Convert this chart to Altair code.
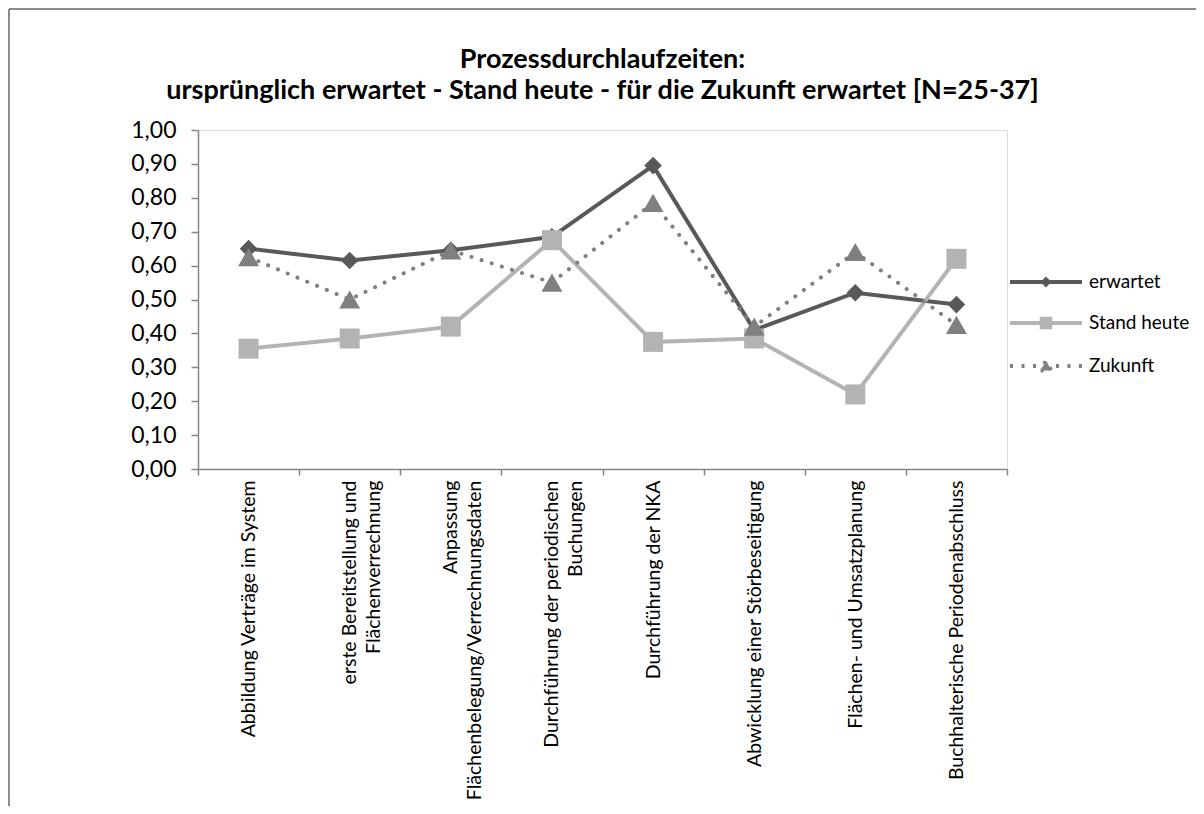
import altair as alt
import pandas as pd

# ---------------- data ----------------
categories = [
    "Abbildung Verträge im System",
    "erste Bereitstellung und|Flächenverrechnung",
    "Anpassung|Flächenbelegung/Verrechnungsdaten",
    "Durchführung der periodischen|Buchungen",
    "Durchführung der NKA",
    "Abwicklung einer Störbeseitigung",
    "Flächen- und Umsatzplanung",
    "Buchhalterische Periodenabschluss",
]
series_names = ["erwartet", "Stand heute", "Zukunft"]
erwartet = [0.65, 0.615, 0.645, 0.685, 0.895, 0.41, 0.52, 0.485]
stand_heute = [0.355, 0.385, 0.42, 0.675, 0.375, 0.385, 0.22, 0.62]
zukunft = [0.625, 0.50, 0.645, 0.55, 0.785, 0.42, 0.64, 0.425]
y_ticks = [0.0, 0.1, 0.2, 0.3, 0.4, 0.5, 0.6, 0.7, 0.8, 0.9, 1.0]
title_lines = [
    "Prozessdurchlaufzeiten:",
    "ursprünglich  erwartet - Stand heute - für die Zukunft erwartet [N=25-37]",
]

rows = []
for name, vals in zip(series_names, [erwartet, stand_heute, zukunft]):
    for c, v in zip(categories, vals):
        rows.append({"cat": c, "series": name, "value": v})
df = pd.DataFrame(rows)

# ---------------- styles ----------------
colors = ["#595959", "#b3b3b3", "#808080"]
shapes = ["diamond", "square", "triangle-up"]
sizes = [310, 400, 440]
legend_paths = [
    "M-3,0L3,0M0,-0.22L0.22,0L0,0.22L-0.22,0Z",
    "M-3,0L3,0M-0.36,-0.36L0.36,-0.36L0.36,0.36L-0.36,0.36Z",
    "M-3,0L3,0M-0.45,0.38L0.45,0.38L0,-0.45Z",
]
legend_dash = [[1, 0], [1, 0], [3, 8.5]]
FONT = "Lato"
AXIS_GRAY = "#868686"

x_enc = alt.X(
    "cat:N",
    sort=categories,
    scale=alt.Scale(type="band", paddingInner=0, paddingOuter=0),
    axis=alt.Axis(
        title=None, labelAngle=270, labelAlign="right", labelBaseline="middle",
        labelExpr="split(datum.label, '|')", tickBand="extent", tickSize=6,
        labelPadding=5, labelFontSize=19.5, labelLineHeight=24, labelLimit=0,
        labelColor="black", labelFont=FONT, domainColor=AXIS_GRAY,
        tickColor=AXIS_GRAY, domainWidth=1.5, tickWidth=1.5, grid=False,
    ),
)
y_enc = alt.Y(
    "value:Q",
    scale=alt.Scale(domain=[0, 1], nice=False, zero=True),
    axis=alt.Axis(
        title=None, values=y_ticks,
        labelExpr="replace(format(datum.value, '.2f'), '.', ',')",
        tickSize=7, labelPadding=15, labelFontSize=23, labelColor="black",
        labelFont=FONT, domainColor=AXIS_GRAY, tickColor=AXIS_GRAY,
        domainWidth=1.5, tickWidth=1.5, grid=False,
    ),
)

base = alt.Chart(df)
layers = []

# border of the chart area
border_df = pd.DataFrame({"k": [0]})
layers.append(
    alt.Chart(border_df).mark_rule(color="#8c8c8c", strokeWidth=2).encode(
        x=alt.value(-189), x2=alt.value(-189), y=alt.value(-121), y2=alt.value(676)
    )
)
layers.append(
    alt.Chart(border_df).mark_rule(color="#8c8c8c", strokeWidth=2).encode(
        x=alt.value(-189), x2=alt.value(998), y=alt.value(-121), y2=alt.value(-121)
    )
)

for i, s in enumerate(series_names):
    line_kwargs = dict(color=colors[i], strokeWidth=4)
    if s == "Zukunft":
        line_kwargs.update(strokeDash=[0.1, 10.5], strokeCap="round", strokeWidth=4)
    layers.append(
        base.mark_line(**line_kwargs)
        .encode(x=x_enc, y=y_enc)
        .transform_filter(alt.datum.series == s)
    )
    layers.append(
        base.mark_point(shape=shapes[i], filled=True, size=sizes[i], color=colors[i], opacity=1)
        .encode(x=x_enc, y=y_enc)
        .transform_filter(alt.datum.series == s)
    )

leg = alt.Legend(
    title=None, orient="none", legendX=834, legendY=138,
    symbolSize=576, symbolStrokeWidth=4, labelFontSize=19, labelFont=FONT,
    labelColor="black", labelOffset=29, rowPadding=16, padding=0,
)
legend_layer = (
    base.mark_point(filled=True, opacity=1)
    .encode(
        fill=alt.Fill("series:N", scale=alt.Scale(domain=series_names, range=colors), legend=leg),
        stroke=alt.Stroke("series:N", scale=alt.Scale(domain=series_names, range=colors), legend=leg),
        shape=alt.Shape("series:N", scale=alt.Scale(domain=series_names, range=legend_paths), legend=leg),
        strokeDash=alt.StrokeDash("series:N", scale=alt.Scale(domain=series_names, range=legend_dash), legend=leg),
    )
    .transform_filter("false")
)
layers.append(legend_layer)

chart = (
    alt.layer(*layers)
    .properties(
        width=809,
        height=339,
        autosize=alt.AutoSizeParams(type="none"),
        padding={"left": 190, "top": 122, "right": 189, "bottom": 337},
        title=alt.TitleParams(
            text=title_lines, font=FONT, fontSize=27, fontWeight="bold",
            color="black", anchor="middle", frame="group", lineHeight=31,
            offset=-97,
        ),
    )
    .configure_view(stroke=None)
    .configure(font=FONT, background="white")
)

chart.save("out.html", embed_options={"renderer": "svg", "actions": False})
